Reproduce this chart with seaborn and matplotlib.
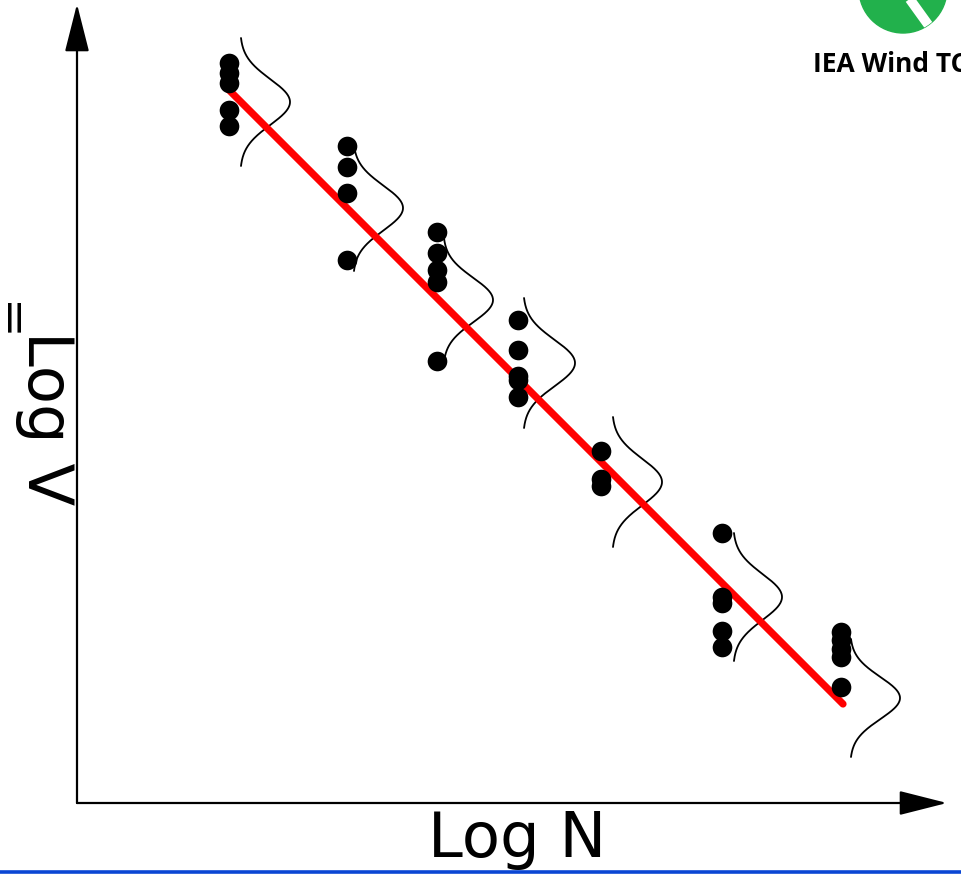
import numpy as np
import pandas as pd
import seaborn as sns
import matplotlib
matplotlib.use("Agg")
import matplotlib.pyplot as plt
from matplotlib.patches import Circle

# S-N schematic: scatter of test results at several load levels,
# a fitted line and the scatter distribution at each level.
# Values are in picture units (x to the right, y downward).

level_x = [229, 347, 437, 518, 601, 722, 841]
level_points = [
    [63, 73, 83, 110, 126],
    [146, 167, 193, 260],
    [232, 253, 270, 282, 361],
    [320, 350, 376, 380, 397],
    [451, 479, 486],
    [533, 597, 603, 631, 647],
    [632, 640, 649, 657, 687],
]

fit_x = [229, 843]
fit_y = [90, 704]

# bell curves drawn next to each group
bell_base = [240, 353, 443, 523, 612, 733, 850]
bell_center = [102, 208, 300, 363, 482, 597, 698]
bell_halfspan = [64, 63, 62, 65, 65, 64, 59]
bell_height = [50, 50, 50, 52, 50, 49, 50]

x_label = "Log N"
y_label = "Log V"
logo_text = "IEA Wind TC"

rows = []
for x, ys in zip(level_x, level_points):
    for y in ys:
        rows.append({"x": x, "y": y})
points = pd.DataFrame(rows)

sns.set_style("white")
plt.rcParams["font.family"] = ["DejaVu Sans"]
plt.rcParams["text.color"] = "black"

fig = plt.figure(figsize=(9.61, 8.74), dpi=100)
ax = fig.add_axes([0, 0, 1, 1])
ax.set_xlim(0, 961)
ax.set_ylim(874, 0)
ax.axis("off")

# bell curves
for base, c, hs, h in zip(bell_base, bell_center, bell_halfspan, bell_height):
    yy = np.linspace(c - hs, c + hs, 200)
    sigma = hs / 2.8
    xx = base + h * np.exp(-0.5 * ((yy - c) / sigma) ** 2)
    sns.lineplot(x=xx, y=yy, sort=False, estimator=None, color="black",
                 linewidth=1.3, ax=ax)

# fitted line
sns.lineplot(x=fit_x, y=fit_y, color="#ff0000", linewidth=5.2, ax=ax)

# test points
sns.scatterplot(data=points, x="x", y="y", color="black", s=200,
                linewidth=0, ax=ax, zorder=5)

# axes arrows
arrow = dict(arrowstyle="-|>,head_length=1.5,head_width=0.38",
             color="black", lw=1.6, mutation_scale=20, shrinkA=0, shrinkB=0)
ax.annotate("", xy=(77, 4), xytext=(77, 803), arrowprops=arrow)
ax.annotate("", xy=(947, 803), xytext=(77, 803), arrowprops=arrow)

ax.text(517, 840, x_label, ha="center", va="center", fontsize=45,
        color="black")
ax.text(45, 418, y_label, ha="center", va="center", fontsize=45,
        rotation=-90, color="black")
ax.text(6, 322, "=", ha="center", va="center", fontsize=34, rotation=-90,
        color="black")

# logo in the corner
logo = Circle((903, -11), 44, color="#22b14c", zorder=6)
ax.add_patch(logo)
stripe, = ax.plot([896, 932], [-20, 30], color="white", lw=7, zorder=7,
                  solid_capstyle="butt")
stripe.set_clip_path(logo)
ax.text(813, 72, logo_text, fontsize=19, fontweight="bold", color="black",
        family=["Open Sans", "DejaVu Sans"], va="baseline")

# blue rule along the bottom
ax.plot([0, 961], [871.5, 871.5], color="#0a46d4", lw=2.6, solid_capstyle="butt")

fig.savefig("out.png", dpi=100)
